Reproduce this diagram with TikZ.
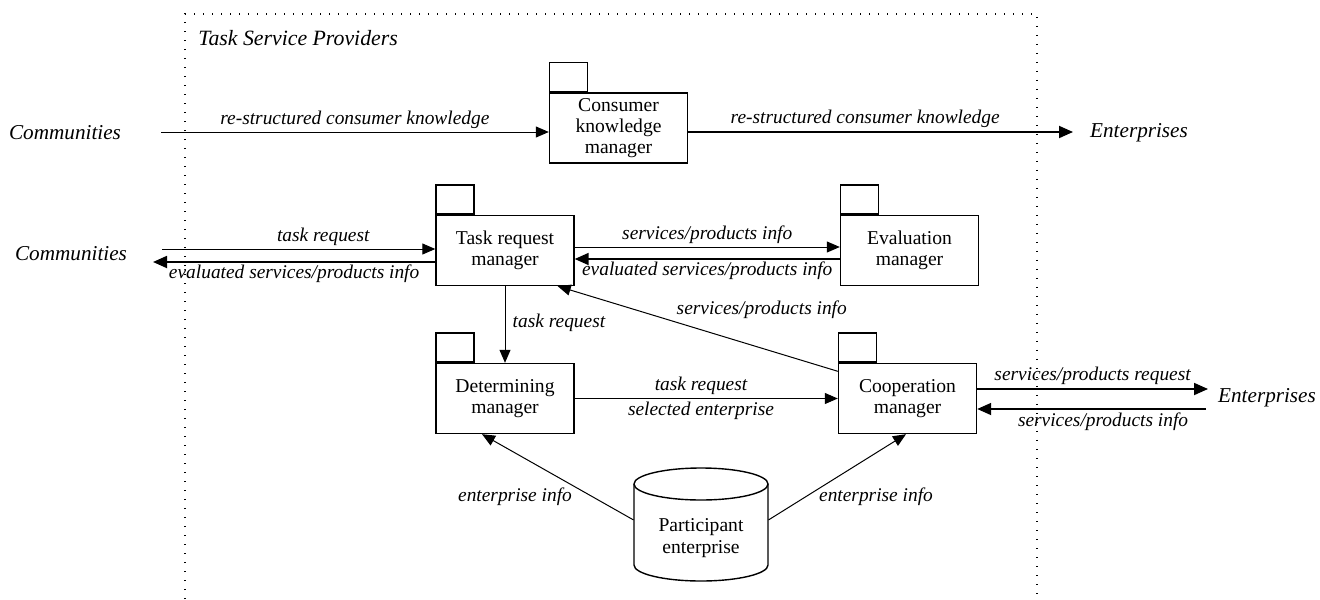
\documentclass[tikz,border=0pt]{standalone}
\usepackage{fontspec}
\setmainfont{Liberation Serif}
\usetikzlibrary{arrows.meta,calc}
\begin{document}
\begin{tikzpicture}[x=0.5pt,y=-0.5pt,
  mgr/.style={draw, line width=0.7pt, minimum width=69pt, minimum height=35pt, inner sep=0pt, align=center, font=\fontsize{9.8}{10.6}\selectfont},
  tabbox/.style={draw, line width=0.7pt, minimum width=19pt, minimum height=14.5pt, inner sep=0pt, anchor=south west},
  ext/.style={font=\itshape\fontsize{10.6}{12}\selectfont, inner sep=0pt},
  lab/.style={font=\itshape\fontsize{9.7}{11}\selectfont, inner sep=1.6pt},
  thinarrow/.style={line width=0.5pt, -{Triangle[length=6.5pt,width=5.5pt]}},
  thickarrow/.style={line width=0.9pt, -{Triangle[length=7pt,width=6pt]}},
  plain/.style={line width=0.5pt}
]
\useasboundingbox (0,0) rectangle (1320,599);
% boundary
\draw[line width=0.6pt, dash pattern=on 0.6pt off 3.9pt] (185,599) -- (185,14) -- (1037,14) -- (1037,599);
\node[anchor=west, font=\itshape\fontsize{10.9}{12}\selectfont, inner sep=0pt] (tsp) at (198,38) {Task Service Providers};

% managers
\node[mgr] (ckm) at (618.5,128) {Consumer\\knowledge\\manager};
\node[tabbox] (ckmtab) at (ckm.north west) {};
\node[mgr] (trm) at (505,250.5) {Task request\\manager};
\node[tabbox] (trmtab) at (trm.north west) {};
\node[mgr] (em) at (909.5,250.5) {Evaluation\\manager};
\node[tabbox] (emtab) at (em.north west) {};
\node[mgr] (dm) at (505,398.5) {Determining\\manager};
\node[tabbox] (dmtab) at (dm.north west) {};
\node[mgr] (cm) at (907.5,398.5) {Cooperation\\manager};
\node[tabbox] (cmtab) at (cm.north west) {};

% database
\draw[line width=0.7pt] (634,484) -- (634,565) arc[start angle=180, end angle=360, x radius=33.5pt, y radius=8pt] -- (768,484);
\draw[line width=0.7pt] (701,484) ellipse [x radius=33.5pt, y radius=8pt];
\node[align=center, minimum width=67pt, inner sep=0pt, font=\fontsize{9.8}{10.6}\selectfont] (pe) at (701,538) {Participant\\enterprise};

% external actors
\node[ext] (com1) at (65,133) {Communities};
\node[ext] (com2) at (71,254) {Communities};
\node[ext] (ent1) at (1139,133) {Enterprises};
\node[ext] (ent2) at (1267,398) {Enterprises};

\coordinate (c1) at (161,132);
\coordinate (e1) at (1073,132);
\coordinate (c2a) at (162,249);
\coordinate (c2b) at (153,262);
\coordinate (e2a) at (1208,389);
\coordinate (e2b) at (1206,409);

% row 1
\draw[thinarrow] (c1) -- (c1 -| ckm.west) node[lab, midway, above] {re-structured consumer knowledge};
\draw[thickarrow] (ckm.east |- c1) -- (e1) node[lab, pos=0.46, above] {re-structured consumer knowledge};

% row 2
\draw[thinarrow] (c2a) -- (c2a -| trm.west) node[lab, pos=0.59, above] {task request};
\draw[thickarrow] (trm.west |- c2b) -- (c2b) node[lab, midway, below, inner sep=1pt] {evaluated services/products info};
\draw[thinarrow] ([yshift=1.75pt]trm.east) -- ([yshift=1.75pt]em.west) node[lab, midway, above] {services/products info};
\draw[thickarrow] ([yshift=-4.25pt]em.west) -- ([yshift=-4.25pt]trm.east) node[lab, midway, below, inner sep=1pt] {evaluated services/products info};

% vertical and diagonal
\draw[thinarrow] (trm.south) -- (dm.north) node[lab, midway, right, xshift=2pt, yshift=1pt] {task request};
\draw[thinarrow] ([yshift=-4.25pt]cm.north west) -- ([xshift=-8.5pt]trm.south east) node[lab, pos=0.584, anchor=south west, inner sep=1pt] {services/products info};

% row 3
\draw[thinarrow] (dm.east) -- (cm.west) node[lab, pos=0.48, above] {task request} node[lab, pos=0.48, below] {selected enterprise};
\draw[thickarrow] (cm.east |- e2a) -- (e2a) node[lab, midway, above] {services/products request};
\draw[thickarrow] (e2b) -- (cm.east |- e2b) node[lab, pos=0.45, below] {services/products info};

% database links
\draw[thinarrow] ([yshift=9pt]pe.west) -- ([xshift=-11.5pt]dm.south);
\draw[thinarrow] ([yshift=9pt]pe.east) -- ([xshift=-0.75pt]cm.south);
\node[lab] (ei1) at (515,497) {enterprise info};
\node[lab] (ei2) at (876,497) {enterprise info};
\end{tikzpicture}
\end{document}
